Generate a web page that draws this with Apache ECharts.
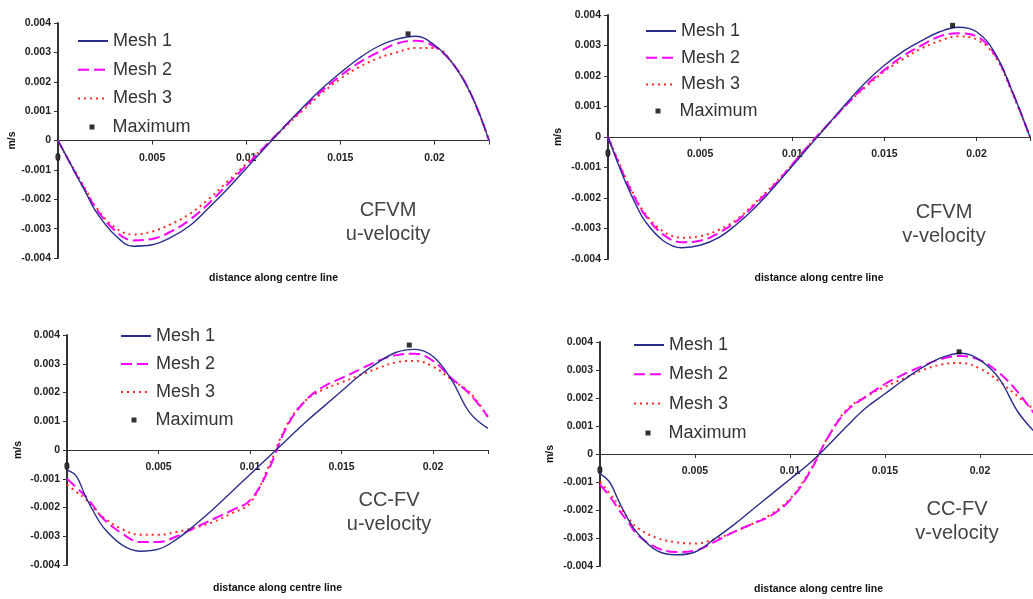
<!DOCTYPE html>
<html><head><meta charset="utf-8">
<script src="https://cdn.jsdelivr.net/npm/echarts/dist/echarts.min.js"></script>
<style>html,body{margin:0;padding:0;background:#fff}#c{width:1033px;height:599px}</style>
</head><body><div id="c"></div>
<script>
// distance along centre line (m)
const xTop = [0, 0.0005, 0.001, 0.0015, 0.002, 0.003, 0.004, 0.005, 0.006, 0.007, 0.008, 0.009, 0.010, 0.011, 0.012, 0.013, 0.014, 0.015, 0.016, 0.017, 0.018, 0.019, 0.020, 0.021, 0.022, 0.0229];
const xBottom = [0, 0.0005, 0.001, 0.0015, 0.002, 0.003, 0.004, 0.005, 0.006, 0.007, 0.008, 0.009, 0.010, 0.011, 0.012, 0.013, 0.014, 0.015, 0.016, 0.017, 0.018, 0.019, 0.020, 0.021, 0.022, 0.023];

// CFVM u-velocity (m/s)
const cfvmU_mesh1 = [0, -0.0006, -0.0012, -0.0018, -0.0024, -0.0032, -0.0036, -0.00355, -0.0033, -0.0029, -0.0023, -0.00165, -0.00095, -0.00025, 0.00045, 0.00112, 0.00175, 0.0023, 0.0028, 0.0032, 0.00345, 0.00355, 0.00325, 0.0026, 0.0015, 0];
const cfvmU_mesh2 = [0, -0.0006, -0.0012, -0.00175, -0.0023, -0.00305, -0.0034, -0.00335, -0.0031, -0.0027, -0.00215, -0.0015, -0.00085, -0.0002, 0.00045, 0.00108, 0.00168, 0.0022, 0.00265, 0.003, 0.0033, 0.0034, 0.0032, 0.0026, 0.0015, 0];
const cfvmU_mesh3 = [0, -0.0006, -0.00115, -0.0017, -0.00225, -0.00295, -0.0032, -0.0031, -0.00285, -0.0025, -0.002, -0.0014, -0.0008, -0.0002, 0.00042, 0.00102, 0.0016, 0.0021, 0.0025, 0.0028, 0.003, 0.00315, 0.00315, 0.0026, 0.0015, 0];
const cfvmU_max = [[0.0186, 0.00363]];

// CFVM v-velocity (m/s)
const cfvmV_mesh1 = [0, -0.0008, -0.00155, -0.0022, -0.00275, -0.0034, -0.00363, -0.00355, -0.0033, -0.00285, -0.0023, -0.00165, -0.00095, -0.00025, 0.00045, 0.00115, 0.0018, 0.00235, 0.0028, 0.00315, 0.00345, 0.0036, 0.00345, 0.00275, 0.0014, 0];
const cfvmV_mesh2 = [0, -0.00075, -0.00145, -0.00205, -0.00255, -0.0032, -0.00345, -0.0034, -0.00315, -0.00275, -0.0022, -0.0016, -0.0009, -0.0002, 0.00045, 0.0011, 0.0017, 0.0022, 0.00265, 0.003, 0.0033, 0.0034, 0.0033, 0.0027, 0.0014, 0];
const cfvmV_mesh3 = [0, -0.0007, -0.0014, -0.002, -0.0025, -0.0031, -0.0033, -0.00325, -0.00305, -0.0027, -0.00215, -0.00155, -0.0009, -0.0002, 0.00045, 0.0011, 0.00165, 0.00215, 0.00255, 0.0029, 0.00315, 0.0033, 0.0032, 0.00265, 0.00135, 0];
const cfvmV_max = [[0.0187, 0.00366]];

// CC-FV u-velocity (m/s)
const ccfvU_mesh1 = [-0.0007, -0.0009, -0.0016, -0.0022, -0.0027, -0.0033, -0.00352, -0.00345, -0.0031, -0.0026, -0.00205, -0.00145, -0.00085, -0.00025, 0.00035, 0.00095, 0.0015, 0.00205, 0.0026, 0.00305, 0.0034, 0.0035, 0.00325, 0.00245, 0.0013, 0.00075];
const ccfvU_mesh2 = [-0.001, -0.0013, -0.0016, -0.002, -0.0024, -0.0029, -0.0032, -0.0032, -0.003, -0.0027, -0.0024, -0.0021, -0.00175, -0.0007, 0.0008, 0.0017, 0.0022, 0.0025, 0.0028, 0.0031, 0.0033, 0.00335, 0.0031, 0.0025, 0.00195, 0.00115];
const ccfvU_mesh3 = [-0.0012, -0.00145, -0.0017, -0.00205, -0.00235, -0.00275, -0.00295, -0.00295, -0.00285, -0.0027, -0.0025, -0.0022, -0.00185, -0.0006, 0.00085, 0.0017, 0.0021, 0.00235, 0.0026, 0.00285, 0.00305, 0.0031, 0.0029, 0.00245, 0.002, 0.00115];
const ccfvU_max = [[0.0187, 0.00365]];

// CC-FV v-velocity (m/s)
const ccfvV_mesh1 = [-0.0007, -0.001, -0.0017, -0.00235, -0.00285, -0.00345, -0.0036, -0.0035, -0.00305, -0.00255, -0.002, -0.00145, -0.0009, -0.00035, 0.0003, 0.001, 0.00165, 0.00215, 0.00265, 0.0031, 0.00345, 0.0036, 0.00335, 0.0027, 0.0015, 0.0007];
const ccfvV_mesh2 = [-0.0011, -0.0015, -0.002, -0.00245, -0.0029, -0.00335, -0.0035, -0.00345, -0.00315, -0.0028, -0.0025, -0.0022, -0.00165, -0.0007, 0.0006, 0.00155, 0.00205, 0.0025, 0.00285, 0.00315, 0.0034, 0.0035, 0.00335, 0.0029, 0.0022, 0.0013];
const ccfvV_mesh3 = [-0.001, -0.0014, -0.00185, -0.0023, -0.00265, -0.003, -0.00315, -0.0032, -0.00305, -0.0028, -0.0025, -0.00215, -0.0016, -0.00065, 0.0006, 0.0016, 0.00205, 0.0024, 0.0027, 0.003, 0.0032, 0.00325, 0.00305, 0.0026, 0.00205, 0.0015];
const ccfvV_max = [[0.0189, 0.00365]];

const meshNames = ['Mesh 1', 'Mesh 2', 'Mesh 3'];
const maxName = 'Maximum';
const yTicks = { min: -0.004, max: 0.004, interval: 0.001 };
const xTickStep = 0.005;
const xLabel = 'distance along centre line';
const yLabel = 'm/s';

const panels = [
  { x: xTop, mesh: [cfvmU_mesh1, cfvmU_mesh2, cfvmU_mesh3], max: cfvmU_max, xMax: 0.0229, text: 'CFVM\nu-velocity',
    grid: { left: 58, top: 23, width: 431, height: 235 }, xNameGap: 132, yNameGap: 36,
    leg: { left: 77, top: 32, gap: 10.7, maxLeft: 89.5, maxTop: 118, pad: 13 }, txt: [388, 222] },
  { x: xTop, mesh: [cfvmV_mesh1, cfvmV_mesh2, cfvmV_mesh3], max: cfvmV_max, xMax: 0.0229, text: 'CFVM\nv-velocity',
    grid: { left: 608, top: 15, width: 422, height: 244 }, xNameGap: 136, yNameGap: 44,
    leg: { left: 645, top: 22, gap: 8.7, maxLeft: 655.5, maxTop: 102, pad: 14 }, txt: [944, 224] },
  { x: xBottom, mesh: [ccfvU_mesh1, ccfvU_mesh2, ccfvU_mesh3], max: ccfvU_max, xMax: 0.023, text: 'CC-FV\nu-velocity',
    grid: { left: 67, top: 335, width: 421, height: 230 }, xNameGap: 133, yNameGap: 43,
    leg: { left: 120, top: 327, gap: 10, maxLeft: 131.5, maxTop: 411, pad: 14 }, txt: [389, 512] },
  { x: xBottom, mesh: [ccfvV_mesh1, ccfvV_mesh2, ccfvV_mesh3], max: ccfvV_max, xMax: 0.023, text: 'CC-FV\nv-velocity',
    grid: { left: 600, top: 342, width: 437, height: 224 }, xNameGap: 130, yNameGap: 44,
    leg: { left: 633, top: 336, gap: 11.3, maxLeft: 645.5, maxTop: 424, pad: 13 }, txt: [957, 521] }
];

const FONT = 'Liberation Sans, Arial, sans-serif';
const meshStyles = [
  { color: '#2b2d8c', width: 1.4, type: 'solid' },
  { color: '#ff00ff', width: 2, type: [11, 5] },
  { color: '#ff2a2a', width: 2, type: [2, 4] }
];

const fmt = v => String(+v.toFixed(4));
const option = { backgroundColor: '#fff', animation: false, grid: [], xAxis: [], yAxis: [], series: [], legend: [], graphic: [] };

panels.forEach((p, i) => {
  option.grid.push(Object.assign({ containLabel: false, outerBoundsMode: 'none' }, p.grid));
  option.xAxis.push({
    type: 'value', gridIndex: i, min: 0, max: p.xMax, interval: xTickStep,
    // symmetric y range: move the whole x axis (line, ticks, labels, name) up to the y = 0 line
    offset: -p.grid.height / 2,
    name: xLabel, nameLocation: 'middle', nameGap: p.xNameGap,
    nameTextStyle: { fontFamily: FONT, fontSize: 10.5, fontWeight: 'bold', color: '#111' },
    axisLine: { onZero: false, lineStyle: { color: '#333', width: 1.2 } },
    axisTick: { show: true, length: 4, lineStyle: { color: '#333' } },
    splitLine: { show: false },
    axisLabel: {
      margin: 12, fontFamily: FONT, fontSize: 10.5, fontWeight: 'bold', color: '#222',
      formatter: v => { const r = Math.round(v / xTickStep); return Math.abs(v - r * xTickStep) < 1e-9 ? fmt(v) : ''; }
    }
  });
  option.yAxis.push({
    type: 'value', gridIndex: i, min: yTicks.min, max: yTicks.max, interval: yTicks.interval,
    name: yLabel, nameLocation: 'middle', nameGap: p.yNameGap, nameRotate: 90,
    nameTextStyle: { fontFamily: FONT, fontSize: 10.5, fontWeight: 'bold', color: '#111' },
    axisLine: { show: true, onZero: false, lineStyle: { color: '#333', width: 2 } },
    axisTick: { show: true, length: 4, lineStyle: { color: '#333' } },
    splitLine: { show: false },
    axisLabel: { margin: 7, fontFamily: FONT, fontSize: 10.5, fontWeight: 'bold', color: '#222', formatter: v => fmt(v) }
  });
  p.mesh.forEach((vals, k) => {
    option.series.push({
      type: 'line', name: meshNames[k], xAxisIndex: i, yAxisIndex: i,
      data: p.x.map((xv, j) => [xv, vals[j]]),
      symbol: 'none', smooth: 0.4, z: 3 - k + 2,
      lineStyle: meshStyles[k], itemStyle: { color: meshStyles[k].color }
    });
  });
  option.series.push({
    type: 'scatter', name: maxName, xAxisIndex: i, yAxisIndex: i,
    data: p.max, symbol: 'rect', symbolSize: 5, itemStyle: { color: '#000' }, z: 10
  });
  const ts = { fontFamily: FONT, fontSize: 18, color: '#333' };
  option.legend.push({
    orient: 'vertical', left: p.leg.left, top: p.leg.top, itemWidth: 30, itemHeight: 14, itemGap: p.leg.gap,
    padding: 0, data: meshNames, textStyle: ts, selectedMode: false,
    itemStyle: { color: 'rgba(0,0,0,0)', borderColor: 'rgba(0,0,0,0)', borderWidth: 0 }
  });
  option.legend.push({
    orient: 'vertical', left: p.leg.maxLeft, top: p.leg.maxTop, itemWidth: 5, itemHeight: 5,
    padding: 0, data: [maxName], textStyle: Object.assign({}, ts, { padding: [0, 0, 0, p.leg.pad] }), selectedMode: false
  });
  option.graphic.push({
    type: 'text', x: p.txt[0], y: p.txt[1], z: 20,
    style: { text: p.text, textAlign: 'center', textVerticalAlign: 'middle', font: '20px ' + FONT, lineHeight: 24, fill: '#444' }
  });
});

const chart = echarts.init(document.getElementById('c'), null, { renderer: 'canvas' });
chart.setOption(option);
</script>
</body></html>
